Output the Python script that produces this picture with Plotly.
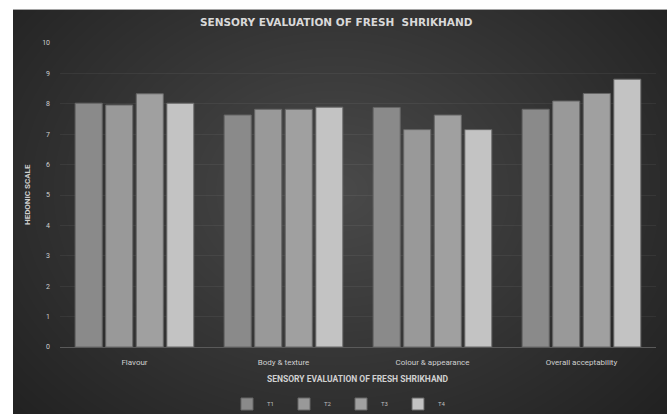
import base64, math, struct, zlib
import plotly.graph_objects as go

categories = ["Flavour", "Body & texture", "Colour & appearance", "Overall acceptability"]
series_names = ["T1", "T2", "T3", "T4"]
t1 = [8.02, 7.63, 7.88, 7.82]
t2 = [7.96, 7.82, 7.15, 8.09]
t3 = [8.33, 7.82, 7.63, 8.34]
t4 = [8.02, 7.89, 7.15, 8.81]
series_values = [t1, t2, t3, t4]
y_ticks = list(range(0, 11))

W, H = 667, 414
ML, MR, MT, MB = 60, 11, 43, 67
PW, PH = W - ML - MR, H - MT - MB


def make_bg_png(w, h):
    rows = []
    for y in range(h):
        if y == 0:
            rows.append(b"\x00" + bytes([165]) * w)
            continue
        r = bytearray(w)
        dy = ((y + 9) - 190) / 300.0
        for x in range(w):
            dx = ((x + 13) - 335) / 390.0
            d = min(math.sqrt(dx * dx + dy * dy), 1.25)
            v = 74 - 36 * d
            r[x] = max(28, min(255, int(v)))
        rows.append(b"\x00" + bytes(r))
    raw = b"".join(rows)

    def chunk(tag, data):
        c = struct.pack(">I", len(data)) + tag + data
        return c + struct.pack(">I", zlib.crc32(tag + data) & 0xFFFFFFFF)

    ihdr = struct.pack(">IIBBBBB", w, h, 8, 0, 0, 0, 0)
    png = b"\x89PNG\r\n\x1a\n" + chunk(b"IHDR", ihdr) + chunk(b"IDAT", zlib.compress(raw, 9)) + chunk(b"IEND", b"")
    return "data:image/png;base64," + base64.b64encode(png).decode()


bg_w, bg_h = W - 13, H - 9
bg_src = make_bg_png(bg_w, bg_h)

colors = ["#8a8a8a", "#999999", "#a0a0a0", "#c3c3c3"]

fig = go.Figure()
for name, vals, col in zip(series_names, series_values, colors):
    fig.add_trace(go.Bar(
        x=categories, y=vals, name=name,
        marker=dict(color=col, line=dict(color="#666666", width=1)),
    ))


def px_to_paper_x(px):
    return (px - ML) / PW


def px_to_paper_y(py):
    return (H - MB - py) / PH


fig.add_layout_image(dict(
    source=bg_src, xref="paper", yref="paper",
    x=px_to_paper_x(13), y=px_to_paper_y(9),
    sizex=bg_w / PW, sizey=bg_h / PH,
    xanchor="left", yanchor="top", sizing="stretch", layer="below",
))

font_fam = "Roboto, DejaVu Sans, sans-serif"
title_fam = "DejaVu Sans, sans-serif"

fig.update_layout(
    width=W, height=H,
    margin=dict(l=ML, r=MR, t=MT, b=MB, autoexpand=False),
    paper_bgcolor="white", plot_bgcolor="rgba(0,0,0,0)",
    barmode="group", bargap=0.18, bargroupgap=0.115,
    font=dict(family=font_fam, color="#cfcfcf", size=7),
    showlegend=True,
    legend=dict(
        orientation="h", x=px_to_paper_x(341), xanchor="center",
        y=px_to_paper_y(404), yanchor="middle",
        font=dict(size=6, color="#bdbdbd"), bgcolor="rgba(0,0,0,0)",
        itemwidth=30, tracegroupgap=0, entrywidth=12, entrywidthmode="pixels",
    ),
    xaxis=dict(
        showline=True, linecolor="#5a5a5a", linewidth=1,
        showgrid=False, ticks="", tickfont=dict(size=8, color="#cfcfcf"),
        ticklabelstandoff=7,
    ),
    yaxis=dict(
        range=[0, 10], tickvals=y_ticks, showgrid=True,
        gridcolor="rgba(255,255,255,0.055)", gridwidth=1,
        zeroline=False, showline=False, ticks="",
        tickfont=dict(size=7, color="#cfcfcf"), ticklabelstandoff=9,
    ),
    annotations=[
        dict(text="<b>SENSORY EVALUATION OF FRESH  SHRIKHAND</b>", xref="paper", yref="paper",
             x=px_to_paper_x(336), y=px_to_paper_y(22), xanchor="center", yanchor="middle",
             showarrow=False, font=dict(size=10.5, color="#d9d9d9", family=title_fam)),
        dict(text="<b>SENSORY EVALUATION OF FRESH SHRIKHAND</b>", xref="paper", yref="paper",
             x=0.5, y=px_to_paper_y(379), xanchor="center", yanchor="middle",
             showarrow=False, font=dict(size=8.5, color="#d0d0d0", family=font_fam)),
        dict(text="<b>HEDONIC SCALE</b>", xref="paper", yref="paper", textangle=-90,
             x=px_to_paper_x(27), y=px_to_paper_y(195), xanchor="center", yanchor="middle",
             showarrow=False, font=dict(size=8, color="#d0d0d0", family=font_fam)),
    ],
)

fig.write_html("out.html")
